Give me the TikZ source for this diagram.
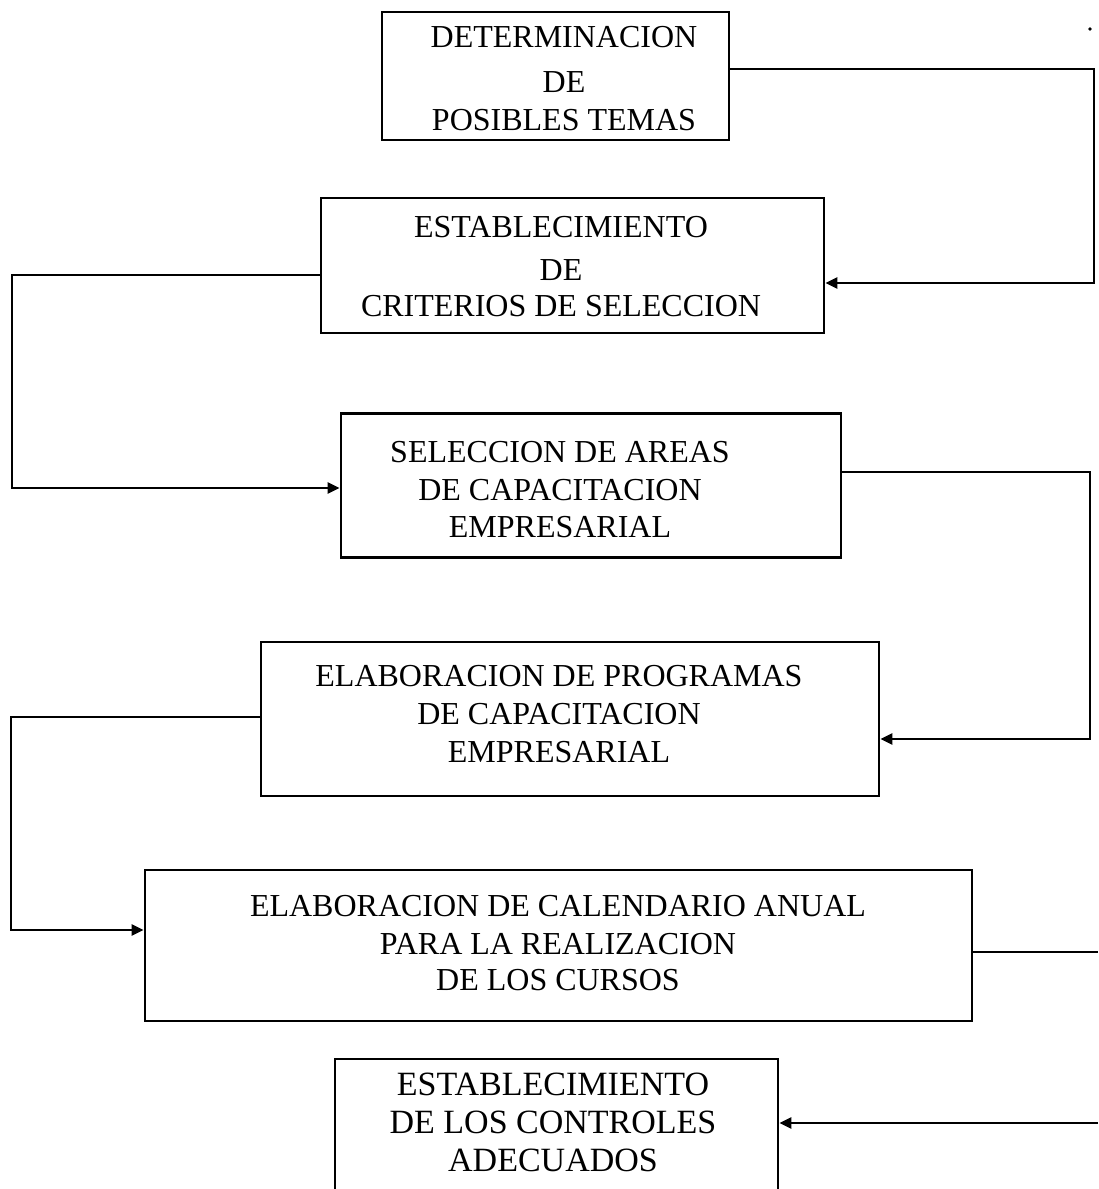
\documentclass[tikz,border=0pt]{standalone}
\usepackage{fontspec}
\setmainfont{Liberation Serif}
\usetikzlibrary{arrows.meta}

\begin{document}
\begin{tikzpicture}[x=1pt, y=-1pt,
  stepbox/.style={draw, line width=2.8pt, inner sep=0pt},
  boxtext/.style={inner sep=0pt, align=center, font=\fontsize{32}{38}\selectfont},
  link/.style={line width=2.6pt, line join=miter},
  flow/.style={link, -{Triangle[length=12pt, width=11pt]}}
]
\useasboundingbox (0,0) rectangle (1098,1189);
\clip (0,0) rectangle (1098,1189);

% process boxes (corner to corner)
\node[stepbox, minimum width=347pt, minimum height=128pt] (b1) at (555.5,76) {};
\node[stepbox, minimum width=503pt, minimum height=135pt] (b2) at (572.5,265.5) {};
\node[stepbox, minimum width=500pt, minimum height=144pt] (b3) at (591,485.5) {};
\node[stepbox, minimum width=618pt, minimum height=154pt] (b4) at (570,719) {};
\node[stepbox, minimum width=827pt, minimum height=151pt] (b5) at (558.5,945.5) {};
\node[stepbox, minimum width=443pt, minimum height=160pt] (b6) at (556.5,1139) {};

% box captions
\node[boxtext] (t1) at (564,78.75) {DETERMINACION\\[7.5pt]DE\\POSIBLES TEMAS};
\node[boxtext] (t2) at (561,266.75) {ESTABLECIMIENTO\\[4.5pt]DE\\[-2pt]CRITERIOS DE SELECCION};
\node[boxtext] (t3) at (560,489.5) {SELECCION DE AREAS\\DE CAPACITACION\\[-1pt]EMPRESARIAL};
\node[boxtext] (t4) at (559,714) {ELABORACION DE PROGRAMAS\\DE CAPACITACION\\EMPRESARIAL};
\node[boxtext] (t5) at (558,943) {ELABORACION DE CALENDARIO ANUAL\\PARA LA REALIZACION\\[-2pt]DE LOS CURSOS};
\node[boxtext, font=\fontsize{34}{38}\selectfont] (t6) at (553,1122) {ESTABLECIMIENTO\\DE LOS CONTROLES\\ADECUADOS};

% connector bends
\coordinate (k1) at (1094,69);
\coordinate (k2) at (1094,283);
\coordinate (k3) at (12,275);
\coordinate (k4) at (12,488);
\coordinate (k5) at (1090,472);
\coordinate (k6) at (1090,739);
\coordinate (k7) at (11,717);
\coordinate (k8) at (11,930);
\coordinate (k9) at (1098,952);
\coordinate (k10) at (1098,1123);

\draw[flow] (b1.east |- k1) -- (k1) -- (k2) -- (b2.east |- k2);
\draw[flow] (b2.west |- k3) -- (k3) -- (k4) -- (b3.west |- k4);
\draw[flow] (b3.east |- k5) -- (k5) -- (k6) -- (b4.east |- k6);
\draw[flow] (b4.west |- k7) -- (k7) -- (k8) -- (b5.west |- k8);
\draw[link] (b5.east |- k9) -- (k9);
\draw[flow] (k10) -- (b6.east |- k10);

% small mark in the upper right corner
\fill (1090,29) circle (1.8pt);
\end{tikzpicture}
\end{document}
